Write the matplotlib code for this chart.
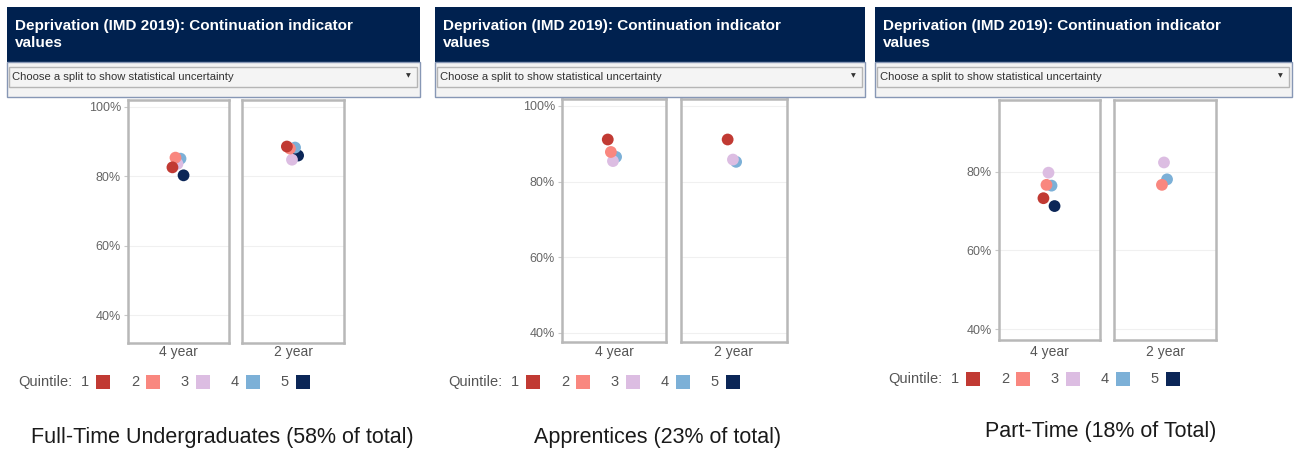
import numpy as np
import matplotlib.pyplot as plt
from matplotlib.patches import Rectangle

plt.rcParams['font.family'] = ['Liberation Sans', 'DejaVu Sans']

# data (continuation %, by IMD quintile)
categories = ['4 year', '2 year']
quintiles = ['1', '2', '3', '4', '5']
quintile_colors = ['#c13a33', '#f9877f', '#dcbde2', '#7cb0d7', '#0b2657']

ft_4yr = [82.6, 85.4, 83.6, 85.1, 80.3]
ft_2yr = [88.6, 88.0, 84.8, 88.3, 86.0]
app_4yr = [91.1, 87.8, 85.4, 86.5, np.nan]
app_2yr = [91.1, np.nan, 85.8, 85.2, np.nan]
pt_4yr = [73.3, 76.7, 79.8, 76.5, 71.3]
pt_2yr = [np.nan, 76.7, 82.4, 78.1, np.nan]

captions = ['Full-Time Undergraduates (58% of total)',
            'Apprentices (23% of total)',
            'Part-Time (18% of Total)']
header_title = 'Deprivation (IMD 2019): Continuation indicator\nvalues'
dropdown_text = 'Choose a split to show statistical uncertainty'

W, H = 1297, 450
fig = plt.figure(figsize=(W / 100, H / 100), dpi=100)
fig.patch.set_facecolor('white')


def fx(x):
    return x / W


def fy(y):
    return 1 - y / H


def rect(x0, y0, x1, y1, **kw):
    fig.add_artist(Rectangle((fx(x0), fy(y1)), fx(x1 - x0), (y1 - y0) / H,
                             transform=fig.transFigure, **kw))


# small dodge per quintile inside each column
dodge = [-0.12, -0.06, -0.02, 0.04, 0.1]

panels = [
    dict(hx=(7, 420), boxes=[(128, 229), (242, 344)], by=(100, 343),
         ylim=(32, 102), values=[ft_4yr, ft_2yr], lx=18, ly=382,
         cap=(222, 437)),
    dict(hx=(435, 865), boxes=[(562, 666), (681, 787)], by=(99, 342),
         ylim=(37.6, 101.8), values=[app_4yr, app_2yr], lx=448, ly=382,
         cap=(658, 437)),
    dict(hx=(875, 1292), boxes=[(999, 1100), (1114, 1216)], by=(100, 340),
         ylim=(37.2, 98.3), values=[pt_4yr, pt_2yr], lx=888, ly=379,
         cap=(1101, 432)),
]

for p, caption in zip(panels, captions):
    x0, x1 = p['hx']
    # header bar + dropdown strip
    rect(x0, 7, x1, 62, facecolor='#00214f', edgecolor='none')
    rect(x0, 62, x1, 97, facecolor='#f3f3f3', edgecolor='#8797b5', lw=1)
    rect(x0 + 2, 67, x1 - 3, 87, facecolor='#f4f4f4', edgecolor='#b5b5b5', lw=1)
    fig.text(fx(x0 + 8), fy(19), header_title, color='white', fontsize=11,
             fontweight='bold', va='top', ha='left', linespacing=1.3)
    fig.text(fx(x0 + 5), fy(77), dropdown_text, color='#333333', fontsize=8.1,
             va='center', ha='left')
    fig.text(fx(x1 - 12), fy(76), '\u25bc', color='#333333', fontsize=4.5,
             va='center', ha='center', family='DejaVu Sans')

    for i, ((bx0, bx1), vals, cat) in enumerate(zip(p['boxes'], p['values'], categories)):
        by0, by1 = p['by']
        ax = fig.add_axes([fx(bx0), fy(by1), fx(bx1 - bx0), (by1 - by0) / H])
        ax.set_yticks([40, 60, 80, 100])
        ax.set_xlim(-1, 1)
        ax.set_ylim(*p['ylim'])
        ax.yaxis.grid(True, color='#f0f0f0', lw=0.8)
        ax.set_axisbelow(True)
        ax.set_xticks([])
        for s in ax.spines.values():
            s.set_color('#b8b8b8')
            s.set_linewidth(1.8)
        if i == 0:
            ax.set_yticklabels(['40%', '60%', '80%', '100%'])
            ax.tick_params(axis='y', length=3, color='#c8c8c8', labelcolor='#666666',
                           labelsize=9, pad=2)
        else:
            ax.tick_params(axis='y', length=0, labelleft=False)
        # draw quintile 5 first so quintile 1 sits on top
        for q in reversed(range(len(quintiles))):
            if not np.isnan(vals[q]):
                ax.scatter(dodge[q], vals[q], s=72, color=quintile_colors[q],
                           edgecolors='none', zorder=3)
        fig.text(fx((bx0 + bx1) / 2), fy(352), cat, color='#555555', fontsize=10,
                 ha='center', va='center')

    # legend
    lx, ly = p['lx'], p['ly']
    fig.text(fx(lx), fy(ly), 'Quintile:', color='#555555', fontsize=10.5,
             ha='left', va='center')
    for q, (lab, col) in enumerate(zip(quintiles, quintile_colors)):
        nx = lx + 67 + q * 50
        fig.text(fx(nx), fy(ly), lab, color='#555555', fontsize=10.5,
                 ha='center', va='center')
        rect(nx + 11, ly - 7, nx + 25, ly + 7, facecolor=col, edgecolor='none')

    fig.text(fx(p['cap'][0]), fy(p['cap'][1]), caption, color='#1a1a1a',
             fontsize=15.5, ha='center', va='center')

fig.savefig('out.png', dpi=100)
